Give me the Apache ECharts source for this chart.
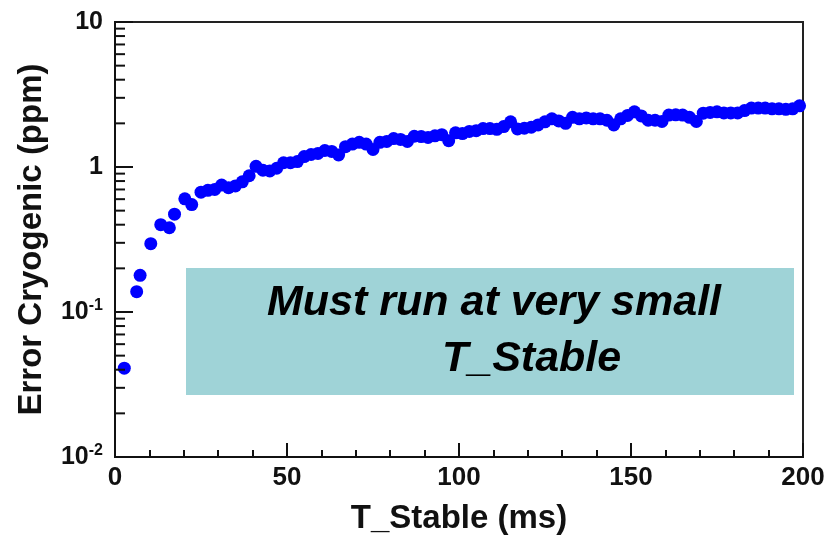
<!DOCTYPE html>
<html>
<head>
<meta charset="utf-8">
<script src="https://cdn.jsdelivr.net/npm/echarts@6/dist/echarts.min.js"></script>
<style>
  html, body { margin: 0; padding: 0; background: #fff; }
  #chart { width: 829px; height: 540px; }
</style>
</head>
<body>
<div id="chart"></div>
<script>
// T_Stable (ms)
const tStable = [
  2.7, 6.3, 7.3, 10.4, 13.3, 15.8, 17.3, 20.3, 22.3,
  25, 27, 29, 31, 33, 35, 37, 39, 41, 43, 45, 47, 49,
  51, 53, 55, 57, 59, 61, 63, 65, 67, 69, 71, 73, 75, 77, 79,
  81, 83, 85, 87, 89, 91, 93, 95, 97, 99, 101, 103, 105, 107, 109,
  111, 113, 115, 117, 119, 121, 123, 125, 127, 129, 131, 133, 135, 137, 139,
  141, 143, 145, 147, 149, 151, 153, 155, 157, 159, 161, 163, 165, 167, 169,
  171, 173, 175, 177, 179, 181, 183, 185, 187, 189, 191, 193, 195, 197, 199
];
// Error Cryogenic (ppm)
const errCryo = [
  0.041, 0.138, 0.179, 0.296, 0.40, 0.381, 0.473, 0.603, 0.551,
  0.67, 0.69, 0.70, 0.75, 0.72, 0.74, 0.79, 0.87, 1.01, 0.95, 0.94, 0.98, 1.07,
  1.07, 1.09, 1.18, 1.22, 1.24, 1.30, 1.28, 1.21, 1.38, 1.44, 1.48, 1.44, 1.32, 1.48, 1.50,
  1.57, 1.55, 1.50, 1.63, 1.62, 1.60, 1.64, 1.67, 1.52, 1.72, 1.70, 1.76, 1.78, 1.84, 1.84,
  1.82, 1.90, 2.05, 1.83, 1.85, 1.88, 1.95, 2.05, 2.15, 2.08, 2.00, 2.20, 2.15, 2.18, 2.15,
  2.15, 2.10, 1.95, 2.15, 2.27, 2.40, 2.25, 2.10, 2.10, 2.06, 2.28, 2.29, 2.28, 2.20, 2.06,
  2.35, 2.38, 2.40, 2.36, 2.36, 2.36, 2.45, 2.55, 2.55, 2.55, 2.52, 2.52, 2.50, 2.52, 2.64
];
const xTicks = [0, 50, 100, 150, 200];
const yDecades = [0.01, 0.1, 1, 10];
const noteLines = ['Must run at very small', 'T_Stable'];

const FONT = '"Liberation Sans", Arial, sans-serif';
const chart = echarts.init(document.getElementById('chart'));

const points = tStable.map((t, i) => [t, errCryo[i]]);

function yLabel(v) {
  const p = Math.round(Math.log10(v));
  if (p === 1) return '10';
  if (p === 0) return '1';
  return '10{s|' + p + '}';
}

chart.setOption({
  animation: false,
  grid: {
    left: 115, right: 26, top: 22, bottom: 82,
    show: true, borderColor: '#222', borderWidth: 2, backgroundColor: 'transparent'
  },
  xAxis: {
    type: 'value',
    min: xTicks[0], max: xTicks[xTicks.length - 1], interval: 50,
    name: 'T_Stable (ms)', nameLocation: 'middle', nameGap: 45,
    nameTextStyle: { fontFamily: FONT, fontWeight: 'bold', fontSize: 33, color: '#111' },
    axisLine: { show: true, lineStyle: { color: '#111', width: 2 } },
    axisTick: { show: true, inside: true, length: 14, lineStyle: { color: '#111', width: 2 } },
    minorTick: { show: true, splitNumber: 5, length: 7, lineStyle: { color: '#111', width: 2 } },
    axisLabel: { margin: 8, fontFamily: FONT, fontWeight: 'bold', fontSize: 26, color: '#111' },
    splitLine: { show: false }
  },
  yAxis: {
    type: 'log', logBase: 10,
    min: yDecades[0], max: yDecades[yDecades.length - 1],
    name: 'Error Cryogenic (ppm)', nameLocation: 'middle', nameGap: 67, nameRotate: 90,
    nameTextStyle: { fontFamily: FONT, fontWeight: 'bold', fontSize: 33, color: '#111' },
    axisLine: { show: true, lineStyle: { color: '#111', width: 2 } },
    axisTick: { show: true, inside: true, length: 18, lineStyle: { color: '#111', width: 2 } },
    axisLabel: {
      margin: 12, fontFamily: FONT, fontWeight: 'bold', fontSize: 25, color: '#111',
      formatter: yLabel,
      rich: { s: { fontFamily: FONT, fontWeight: 'bold', fontSize: 16, color: '#111', verticalAlign: 'top', padding: [0, 0, 12, 0] } }
    },
    splitLine: { show: false }
  },
  series: [{
    type: 'scatter',
    data: points,
    symbol: 'circle',
    symbolSize: 13,
    itemStyle: { color: '#0000ff', opacity: 1 },
    z: 3
  }]
});

// log minor ticks (2..9 in each decade) and the note box
const minor = [];
for (let d = 0; d < yDecades.length - 1; d++) {
  for (let k = 2; k <= 9; k++) {
    const y = chart.convertToPixel({ yAxisIndex: 0 }, yDecades[d] * k);
    const x = chart.convertToPixel({ xAxisIndex: 0 }, 0);
    minor.push({
      type: 'line', silent: true, z: 10,
      shape: { x1: x, y1: y, x2: x + 10, y2: y },
      style: { stroke: '#111', lineWidth: 2 }
    });
  }
}

chart.setOption({
  graphic: minor.concat([
    {
      type: 'rect', z: 20,
      shape: { x: 186, y: 268, width: 608, height: 127 },
      style: { fill: '#9fd3d7' }
    },
    {
      type: 'text', z: 21, left: 267, top: 282,
      style: { text: noteLines[0], font: 'italic bold 43px ' + FONT, fill: '#000' }
    },
    {
      type: 'text', z: 21, left: 442, top: 338,
      style: { text: noteLines[1], font: 'italic bold 43px ' + FONT, fill: '#000' }
    }
  ])
});
</script>
</body>
</html>
